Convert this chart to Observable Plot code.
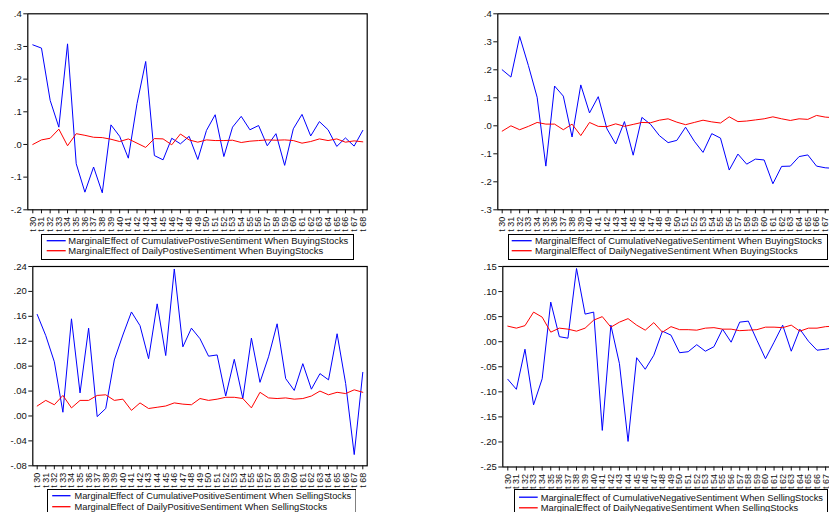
<!DOCTYPE html>
<html>
<head>
<meta charset="utf-8">
<script src="https://cdn.jsdelivr.net/npm/d3@7"></script>
<script src="https://cdn.jsdelivr.net/npm/@observablehq/plot@0.6"></script>
<style>
  html, body { margin: 0; padding: 0; background: #fff; }
  body { width: 829px; height: 512px; overflow: hidden; position: relative; font-family: "Liberation Sans", Arial, sans-serif; }
  .panel, .leg { position: absolute; }
</style>
</head>
<body>
<script>
// ---- data ----
const periods = [30,31,32,33,34,35,36,37,38,39,40,41,42,43,44,45,46,47,48,49,50,51,52,53,54,55,56,57,58,59,60,61,62,63,64,65,66,67,68];

const buyPosCum = [0.305,0.295,0.135,0.053,0.308,-0.059,-0.146,-0.069,-0.148,0.060,0.025,-0.042,0.125,0.254,-0.034,-0.047,0.019,0.002,0.025,-0.046,0.043,0.091,-0.037,0.053,0.086,0.045,0.058,-0.004,0.033,-0.064,0.048,0.092,0.026,0.070,0.045,-0.006,0.020,-0.005,0.043];
const buyPosDaily = [0.000,0.014,0.019,0.047,-0.004,0.033,0.028,0.022,0.021,0.016,0.009,0.017,0.004,-0.009,0.018,0.017,-0.001,0.032,0.014,0.007,0.014,0.012,0.012,0.013,0.006,0.010,0.012,0.014,0.013,0.014,0.012,0.004,0.009,0.017,0.012,0.017,0.007,0.011,0.008];

const buyNegCum = [0.200,0.174,0.319,0.215,0.102,-0.144,0.142,0.106,-0.040,0.146,0.046,0.104,-0.011,-0.065,0.015,-0.105,0.030,0.005,-0.035,-0.060,-0.052,-0.005,-0.055,-0.095,-0.028,-0.044,-0.158,-0.101,-0.137,-0.119,-0.122,-0.207,-0.145,-0.144,-0.110,-0.104,-0.144,-0.150,-0.152];
const buyNegDaily = [-0.019,0.000,-0.014,-0.002,0.012,0.006,0.006,-0.014,0.006,-0.035,0.012,-0.002,-0.003,0.007,-0.002,0.005,0.012,0.011,0.020,0.025,0.013,0.004,0.012,0.020,0.014,0.010,0.032,0.015,0.017,0.021,0.025,0.032,0.025,0.019,0.025,0.023,0.037,0.031,0.029];

const sellPosCum = [0.163,0.129,0.087,0.006,0.156,0.037,0.141,-0.001,0.012,0.090,0.130,0.167,0.145,0.092,0.180,0.097,0.236,0.111,0.141,0.124,0.096,0.098,0.032,0.091,0.028,0.125,0.054,0.095,0.148,0.060,0.041,0.084,0.043,0.068,0.058,0.132,0.052,-0.062,0.070];
const sellPosDaily = [0.016,0.025,0.018,0.033,0.013,0.025,0.025,0.033,0.034,0.025,0.027,0.009,0.021,0.012,0.014,0.016,0.021,0.019,0.018,0.028,0.025,0.027,0.030,0.030,0.028,0.013,0.038,0.029,0.028,0.029,0.027,0.028,0.032,0.040,0.034,0.038,0.036,0.042,0.038];

const sellNegCum = [-0.075,-0.095,-0.015,-0.126,-0.074,0.079,0.010,0.007,0.146,0.055,0.059,-0.177,0.033,-0.044,-0.199,-0.032,-0.055,-0.027,0.021,0.013,-0.022,-0.020,-0.006,-0.019,-0.010,0.025,-0.001,0.039,0.041,0.003,-0.034,-0.001,0.033,-0.019,0.025,0.001,-0.017,-0.015,-0.012];
const sellNegDaily = [0.031,0.027,0.032,0.059,0.049,0.019,0.027,0.025,0.021,0.027,0.043,0.050,0.029,0.039,0.046,0.033,0.023,0.038,0.019,0.030,0.024,0.024,0.023,0.027,0.028,0.025,0.025,0.022,0.023,0.024,0.029,0.029,0.028,0.033,0.021,0.027,0.027,0.030,0.031];

const ticksA = [-0.2,-0.1,0,0.1,0.2,0.3,0.4];
const ticksB = [-0.3,-0.2,-0.1,0,0.1,0.2,0.3,0.4];
const ticksC = [-0.08,-0.04,0,0.04,0.08,0.12,0.16,0.20,0.24];
const ticksD = [-0.25,-0.20,-0.15,-0.10,-0.05,0,0.05,0.10,0.15];

const legends = [
  ["MarginalEffect of CumulativePostiveSentiment When BuyingStocks", "MarginalEffect of DailyPostiveSentiment When BuyingStocks"],
  ["MarginalEffect of CumulativeNegativeSentiment When BuyingStocks", "MarginalEffect of DailyNegativeSentiment When BuyingStocks"],
  ["MarginalEffect of CumulativePositiveSentiment When SellingStocks", "MarginalEffect of DailyPositiveSentiment When SellingStocks"],
  ["MarginalEffect of CumulativeNegativeSentiment When SellingStocks", "MarginalEffect of DailyNegativeSentiment When SellingStocks"]
];
const seriesColors = ["#0000ff", "#ff0000"];

function fmt(dec) {
  return d => {
    const s = Math.abs(d).toFixed(dec).replace(/^0/, "");
    return (d < -1e-9 ? "-" : "") + s;
  };
}

function panel(o) {
  const rows = periods.map((p, i) => ({p, cum: o.cum[i], daily: o.daily[i]}));
  const svg = Plot.plot({
    width: o.width, height: o.height,
    marginLeft: o.ml, marginRight: o.mr, marginTop: o.mt, marginBottom: o.mb,
    style: {fontFamily: "Liberation Sans, Arial, sans-serif", fontSize: "9px", background: "transparent", color: "#111", overflow: "visible"},
    x: {domain: [30, 68], insetLeft: o.il, insetRight: o.ir, label: null},
    y: {domain: o.yDomain, label: null},
    marks: [
      Plot.frame({stroke: "#000", strokeWidth: 1.2}),
      Plot.axisY({ticks: o.yTicks, tickFormat: fmt(o.dec), tickSize: 4, tickPadding: 2, fontSize: 9.5, label: null}),
      Plot.axisX({ticks: periods, tickFormat: d => "t " + d, tickRotate: -90, tickSize: 4, tickPadding: 3, fontSize: 9, label: null}),
      Plot.lineY(rows, {x: "p", y: "cum", stroke: seriesColors[0], strokeWidth: 1}),
      Plot.lineY(rows, {x: "p", y: "daily", stroke: seriesColors[1], strokeWidth: 1})
    ]
  });
  svg.classList.add("panel");
  svg.style.left = o.left + "px";
  svg.style.top = o.top + "px";
  document.body.appendChild(svg);
}

function legend(o, labels) {
  const svg = d3.create("svg")
    .attr("class", "leg")
    .attr("width", o.w + 1).attr("height", o.h + 1)
    .style("left", o.x + "px").style("top", o.y + "px");
  svg.append("rect").attr("x", 0.5).attr("y", 0.5).attr("width", o.w).attr("height", o.h)
    .attr("fill", "#fff").attr("stroke", "#000").attr("stroke-width", 1);
  labels.forEach((t, i) => {
    const cy = o.rows[i];
    svg.append("line").attr("x1", o.s0).attr("x2", o.s1).attr("y1", cy).attr("y2", cy)
      .attr("stroke", seriesColors[i]).attr("stroke-width", 1.3);
    svg.append("text").attr("x", o.t0).attr("y", cy).attr("dy", "0.35em")
      .attr("font-family", "Liberation Sans, Arial, sans-serif").attr("font-size", 9.6).attr("fill", "#111")
      .attr("textLength", o.tl[i]).attr("lengthAdjust", "spacingAndGlyphs")
      .text(t);
  });
  document.body.appendChild(svg.node());
}

panel({cum: buyPosCum, daily: buyPosDaily, yDomain: [-0.2, 0.4], yTicks: ticksA, dec: 1,
  left: 0, top: 0, width: 415, height: 256, ml: 27.3, mr: 48.3, mt: 13.3, mb: 46.7, il: 5, ir: 4.4});
panel({cum: buyNegCum, daily: buyNegDaily, yDomain: [-0.3, 0.4], yTicks: ticksB, dec: 1,
  left: 415, top: 0, width: 430, height: 256, ml: 82.3, mr: 7, mt: 13.3, mb: 46.7, il: 4.4, ir: 4.5});
panel({cum: sellPosCum, daily: sellPosDaily, yDomain: [-0.08, 0.24], yTicks: ticksC, dec: 2,
  left: 0, top: 256, width: 415, height: 256, ml: 32.3, mr: 48.3, mt: 10, mb: 46.7, il: 4.4, ir: 4.4});
panel({cum: sellNegCum, daily: sellNegDaily, yDomain: [-0.25, 0.15], yTicks: ticksD, dec: 2,
  left: 415, top: 256, width: 430, height: 256, ml: 87.3, mr: 7, mt: 10, mb: 45.5, il: 5, ir: 4.3});

// legend boxes (positions relative to each legend's own box)
legend({x: 41, y: 234, w: 312, h: 25, rows: [6.7, 16.7], s0: 5.7, s1: 24.7, t0: 27.3, tl: [280, 255]}, legends[0]);
legend({x: 508, y: 234, w: 319, h: 25, rows: [6.7, 16.7], s0: 3.7, s1: 23.7, t0: 27, tl: [287, 262.7]}, legends[1]);
legend({x: 46.5, y: 489, w: 308.5, h: 30, rows: [6.7, 17.7], s0: 5.2, s1: 23.5, t0: 27.5, tl: [276.7, 252.7]}, legends[2]);
legend({x: 514, y: 489, w: 313, h: 30, rows: [8.2, 18.8], s0: 5, s1: 23.7, t0: 26.7, tl: [282.3, 257.6]}, legends[3]);
</script>
</body>
</html>
